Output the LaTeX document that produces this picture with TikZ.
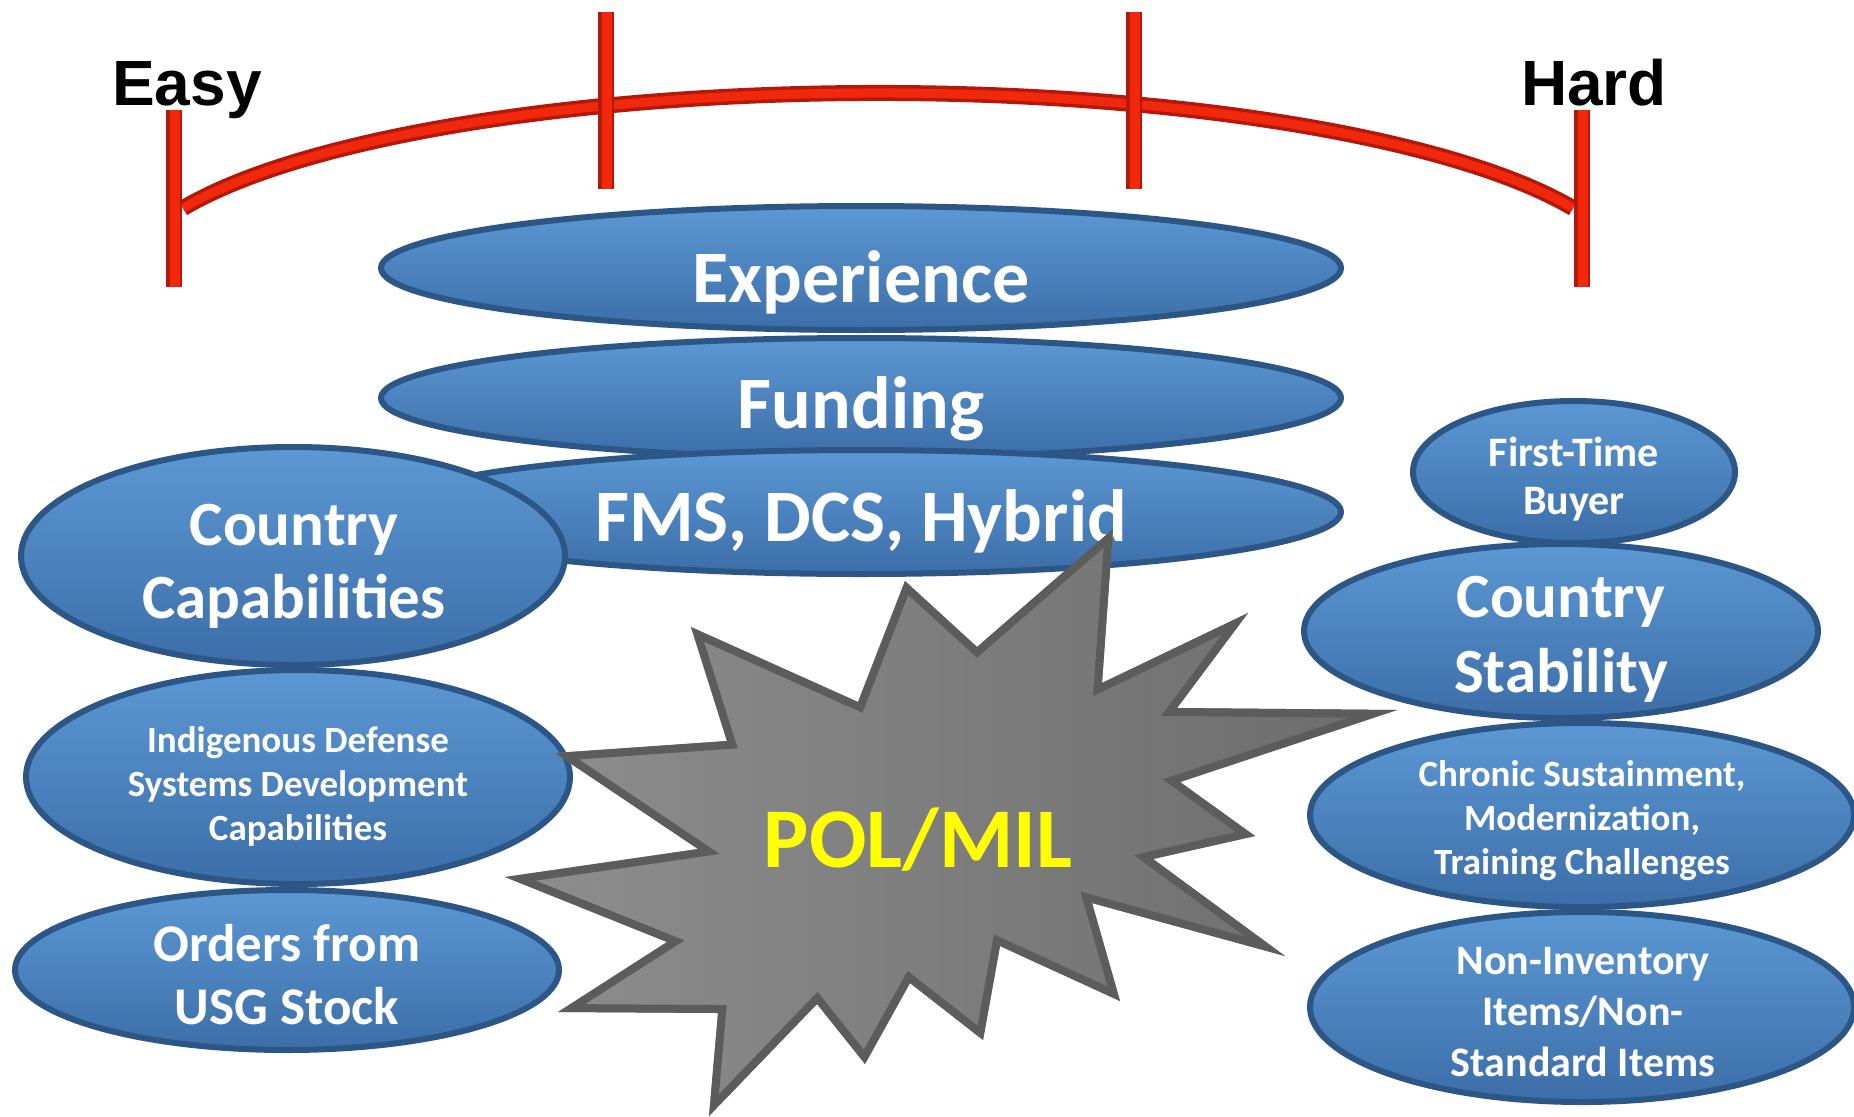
\documentclass[tikz,border=0pt]{standalone}
\usepackage{fontspec}
\newfontfamily\calfont{Carlito}
\newfontfamily\arialfont{Liberation Sans}
\usepackage{tikz}
\usetikzlibrary{shapes.geometric}

\definecolor{barred}{RGB}{242,40,12}
\definecolor{bardark}{RGB}{180,24,10}
\definecolor{blobtop}{RGB}{92,152,212}
\definecolor{blobbot}{RGB}{60,110,168}
\definecolor{blobrim}{RGB}{44,86,134}
\definecolor{starlight}{RGB}{142,142,142}
\definecolor{stardark}{RGB}{108,108,108}
\definecolor{staredge}{RGB}{92,92,92}
\definecolor{polyellow}{RGB}{255,255,0}

\begin{document}
\begin{tikzpicture}[
    x=1pt, y=-1pt,
    blob/.style={ellipse, draw=blobrim, line width=6pt, top color=blobtop, bottom color=blobbot, inner sep=0pt},
    endlabel/.style={anchor=base, font=\arialfont\bfseries\fontsize{64}{70}\selectfont},
    bigtxt/.style={anchor=base, text=white, font=\calfont\bfseries\fontsize{74}{80}\selectfont},
    midtxt/.style={align=center, text=white, font=\calfont\bfseries\fontsize{63}{73}\selectfont},
    smalltxt/.style={align=center, text=white, font=\calfont\bfseries\fontsize{37}{44}\selectfont}
]
\useasboundingbox (0,0) rectangle (1854,1116);
\clip (0,0) rectangle (1854,1116);

% Easy-to-hard scale
\draw[bardark, line width=16pt] (878,282) ++(157:755pt and 189pt)
    arc[start angle=157, end angle=23, x radius=755pt, y radius=189pt];
\draw[barred, line width=9pt] (878,282) ++(157:755pt and 189pt)
    arc[start angle=157, end angle=23, x radius=755pt, y radius=189pt];
\foreach \tx/\ty in {174/110, 606/12, 1134/12, 1582/110} {
    \fill[bardark] (\tx-8,\ty) rectangle (\tx+8,\ty+177);
    \fill[barred] (\tx-4,\ty) rectangle (\tx+6,\ty+177);
}
\node[endlabel] (easy) at (187,105) {Easy};
\node[endlabel] (hard) at (1594,105) {Hard};

% Middle stack
\node[blob, minimum width=960pt, minimum height=124pt] (exp) at (861,268) {};
\node[bigtxt] (expt) at (861,302) {Experience};
\node[blob, minimum width=960pt, minimum height=120pt] (fund) at (861,398) {};
\node[bigtxt] (fundt) at (861,428) {Funding};
\node[blob, minimum width=960pt, minimum height=124pt] (fms) at (861,512) {};
\node[bigtxt] (fmst) at (861,541) {FMS, DCS, Hybrid};

% Left stack
\node[blob, minimum width=544pt, minimum height=218pt] (ccap) at (293,556) {};
\node[midtxt] (ccapt) at (294,566) {Country\\Capabilities};
\node[blob, minimum width=544pt, minimum height=214pt] (indig) at (298,777) {};
\node[smalltxt] (indigt) at (298,786) {Indigenous Defense\\Systems Development\\Capabilities};
\node[blob, minimum width=544pt, minimum height=160pt] (orders) at (287,970) {};
\node[midtxt, font=\calfont\bfseries\fontsize{53}{63}\selectfont] (orderst) at (287,975) {Orders from\\USG Stock};

% Right stack
\node[blob, minimum width=322pt, minimum height=142pt] (first) at (1574,472) {};
\node[smalltxt, font=\calfont\bfseries\fontsize{42}{48}\selectfont] (firstt) at (1574,479) {First-Time\\Buyer};
\node[blob, minimum width=514pt, minimum height=174pt] (cstab) at (1561,631) {};
\node[midtxt, font=\calfont\bfseries\fontsize{63}{75}\selectfont] (cstabt) at (1561,639) {Country\\Stability};
\node[blob, minimum width=544pt, minimum height=184pt] (chron) at (1582,815) {};
\node[smalltxt] (chront) at (1582,821) {Chronic Sustainment,\\Modernization,\\Training Challenges};
\node[blob, minimum width=544pt, minimum height=190pt] (noninv) at (1582,1007) {};
\node[smalltxt, font=\calfont\bfseries\fontsize{42}{51}\selectfont] (noninvt) at (1583,1012) {Non-Inventory\\Items/Non-\\Standard Items};

% POL/MIL burst
\foreach \px/\py [count=\i] in {691/627, 858/702, 905/581, 977/647, 1113/529, 1102/683, 1248/613,
    1177/708, 1397/710, 1180/782, 1255/836, 1153/859, 1285/956, 1092/903, 1120/1001,
    1000/946, 983/1040, 910/983, 865/1064, 817/1004, 709/1116, 718/1013, 558/1012,
    667/942, 505/877, 698/849, 555/753, 727/741}
    \coordinate (s\i) at (\px,\py);
\shade[left color=starlight, right color=stardark] (s1) \foreach \i in {2,...,28}{ -- (s\i)} -- cycle;
\begin{scope}
    \clip (s1) \foreach \i in {2,...,28}{ -- (s\i)} -- cycle;
    \draw[staredge, line width=16pt] (s1) \foreach \i in {2,...,28}{ -- (s\i)} -- cycle;
\end{scope}
\node[anchor=base, text=polyellow, font=\calfont\bfseries\fontsize{85}{90}\selectfont] (pol) at (918,867) {POL/MIL};

\end{tikzpicture}
\end{document}
